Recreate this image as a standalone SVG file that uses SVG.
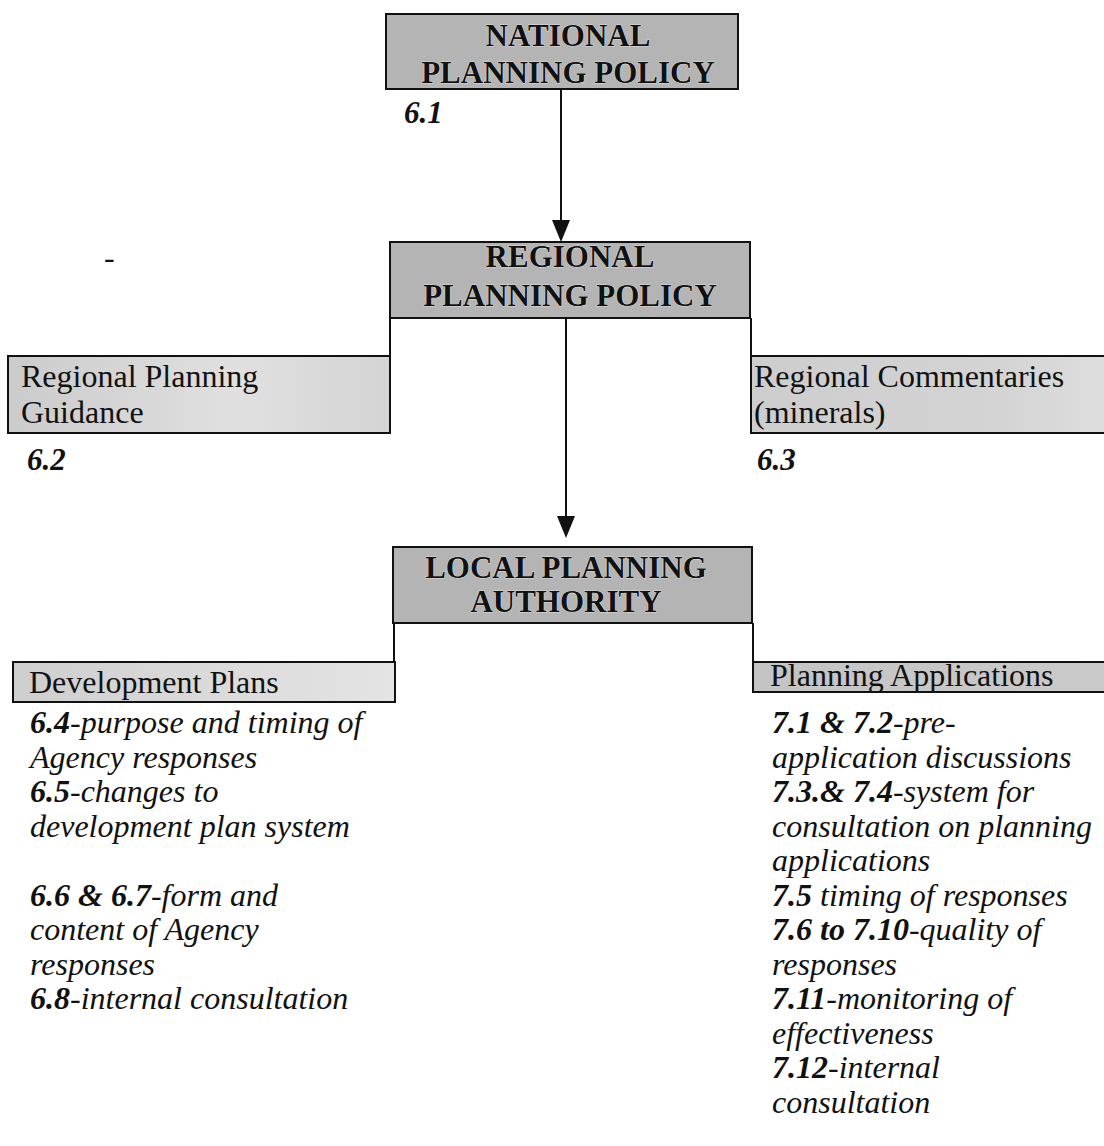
<svg xmlns="http://www.w3.org/2000/svg" width="1104" height="1146" viewBox="0 0 1104 1146">
<style>
.main{fill:#b4b4b4;stroke:#111;stroke-width:2}
.sub{stroke:#111;stroke-width:2}
.mt{font-family:"Liberation Serif",serif;font-weight:bold;font-size:31px;fill:#111;text-anchor:middle;stroke:#fff;stroke-width:0.6;paint-order:stroke}
.st{font-family:"Liberation Serif",serif;font-size:32px;fill:#111}
.it{font-family:"Liberation Serif",serif;font-style:italic;font-size:32px;fill:#111}
.b{font-weight:bold}
.num{font-family:"Liberation Serif",serif;font-style:italic;font-weight:bold;font-size:31px;fill:#111}
.ln{stroke:#111;stroke-width:2;fill:none}
</style>
<defs>
<linearGradient id="g1" x1="0" x2="1" y1="0" y2="0"><stop offset="0" stop-color="#cbcbcb"/><stop offset="0.6" stop-color="#e0e0e0"/><stop offset="1" stop-color="#d4d4d4"/></linearGradient>
<linearGradient id="g2" x1="0" x2="1" y1="0" y2="0"><stop offset="0" stop-color="#cdcdcd"/><stop offset="0.7" stop-color="#d4d4d4"/><stop offset="1" stop-color="#dedede"/></linearGradient>
<linearGradient id="g3" x1="0" x2="1" y1="0" y2="0"><stop offset="0" stop-color="#cecece"/><stop offset="0.6" stop-color="#dcdcdc"/><stop offset="1" stop-color="#e4e4e4"/></linearGradient>
<linearGradient id="g4" x1="0" x2="1" y1="0" y2="0"><stop offset="0" stop-color="#c4c4c4"/><stop offset="1" stop-color="#cacaca"/></linearGradient>
</defs>
<g id="connectors">
<line class="ln" x1="561" y1="89" x2="561" y2="222"/>
<path d="M552,220 L570,220 L561,242 Z" fill="#111"/>
<line class="ln" x1="566" y1="318" x2="566" y2="518"/>
<path d="M557,516 L575,516 L566,538 Z" fill="#111"/>
<line class="ln" x1="390" y1="318" x2="390" y2="356"/>
<line class="ln" x1="751" y1="318" x2="751" y2="356"/>
<line class="ln" x1="394" y1="623" x2="394" y2="662"/>
<line class="ln" x1="753" y1="623" x2="753" y2="662"/>
</g>
<g id="national">
<rect class="main" x="386" y="14" width="352" height="75"/>
<text class="mt" x="568" y="46">NATIONAL</text>
<text class="mt" x="568" y="83">PLANNING POLICY</text>
<text class="num" x="404" y="123">6.1</text>
</g>
<g id="regional">
<rect class="main" x="390" y="242" width="360" height="76"/>
<text class="mt" x="570" y="267">REGIONAL</text>
<text class="mt" x="570" y="306">PLANNING POLICY</text>
</g>
<g id="rpg">
<rect class="sub" x="8" y="356" width="382" height="77" fill="url(#g1)"/>
<text class="st" x="21" y="387">Regional Planning</text>
<text class="st" x="21" y="423">Guidance</text>
<text class="num" x="27" y="470">6.2</text>
</g>
<text class="st" x="104" y="268" font-size="30">-</text>
<g id="rc">
<rect class="sub" x="751" y="356" width="360" height="77" fill="url(#g2)"/>
<text class="st" x="754" y="387">Regional Commentaries</text>
<text class="st" x="754" y="423">(minerals)</text>
<text class="num" x="757" y="470">6.3</text>
</g>
<g id="local">
<rect class="main" x="393" y="547" width="359" height="76"/>
<text class="mt" x="566" y="578">LOCAL PLANNING</text>
<text class="mt" x="566" y="612">AUTHORITY</text>
</g>
<g id="dev">
<rect class="sub" x="13" y="662" width="382" height="40" fill="url(#g3)"/>
<text class="st" x="29" y="693">Development Plans</text>
<text class="it" x="30" y="733"><tspan class="b">6.4</tspan>-purpose and timing of</text>
<text class="it" x="30" y="767.5">Agency responses</text>
<text class="it" x="30" y="802"><tspan class="b">6.5</tspan>-changes to</text>
<text class="it" x="30" y="836.5">development plan system</text>
<text class="it" x="30" y="905.5"><tspan class="b">6.6 &amp; 6.7</tspan>-form and</text>
<text class="it" x="30" y="940">content of Agency</text>
<text class="it" x="30" y="974.5">responses</text>
<text class="it" x="30" y="1009"><tspan class="b">6.8</tspan>-internal consultation</text>
</g>
<g id="apps">
<rect class="sub" x="753" y="662" width="360" height="30" fill="url(#g4)"/>
<text class="st" x="770" y="686" font-size="30">Planning Applications</text>
<text class="it" x="772" y="733"><tspan class="b">7.1 &amp; 7.2</tspan>-pre-</text>
<text class="it" x="772" y="767.5">application discussions</text>
<text class="it" x="772" y="802"><tspan class="b">7.3.&amp; 7.4</tspan>-system for</text>
<text class="it" x="772" y="836.5">consultation on planning</text>
<text class="it" x="772" y="871">applications</text>
<text class="it" x="772" y="905.5"><tspan class="b">7.5</tspan> timing of responses</text>
<text class="it" x="772" y="940"><tspan class="b">7.6 to 7.10</tspan>-quality of</text>
<text class="it" x="772" y="974.5">responses</text>
<text class="it" x="772" y="1009"><tspan class="b">7.11</tspan>-monitoring of</text>
<text class="it" x="772" y="1043.5">effectiveness</text>
<text class="it" x="772" y="1078"><tspan class="b">7.12</tspan>-internal</text>
<text class="it" x="772" y="1112.5">consultation</text>
</g>
</svg>
